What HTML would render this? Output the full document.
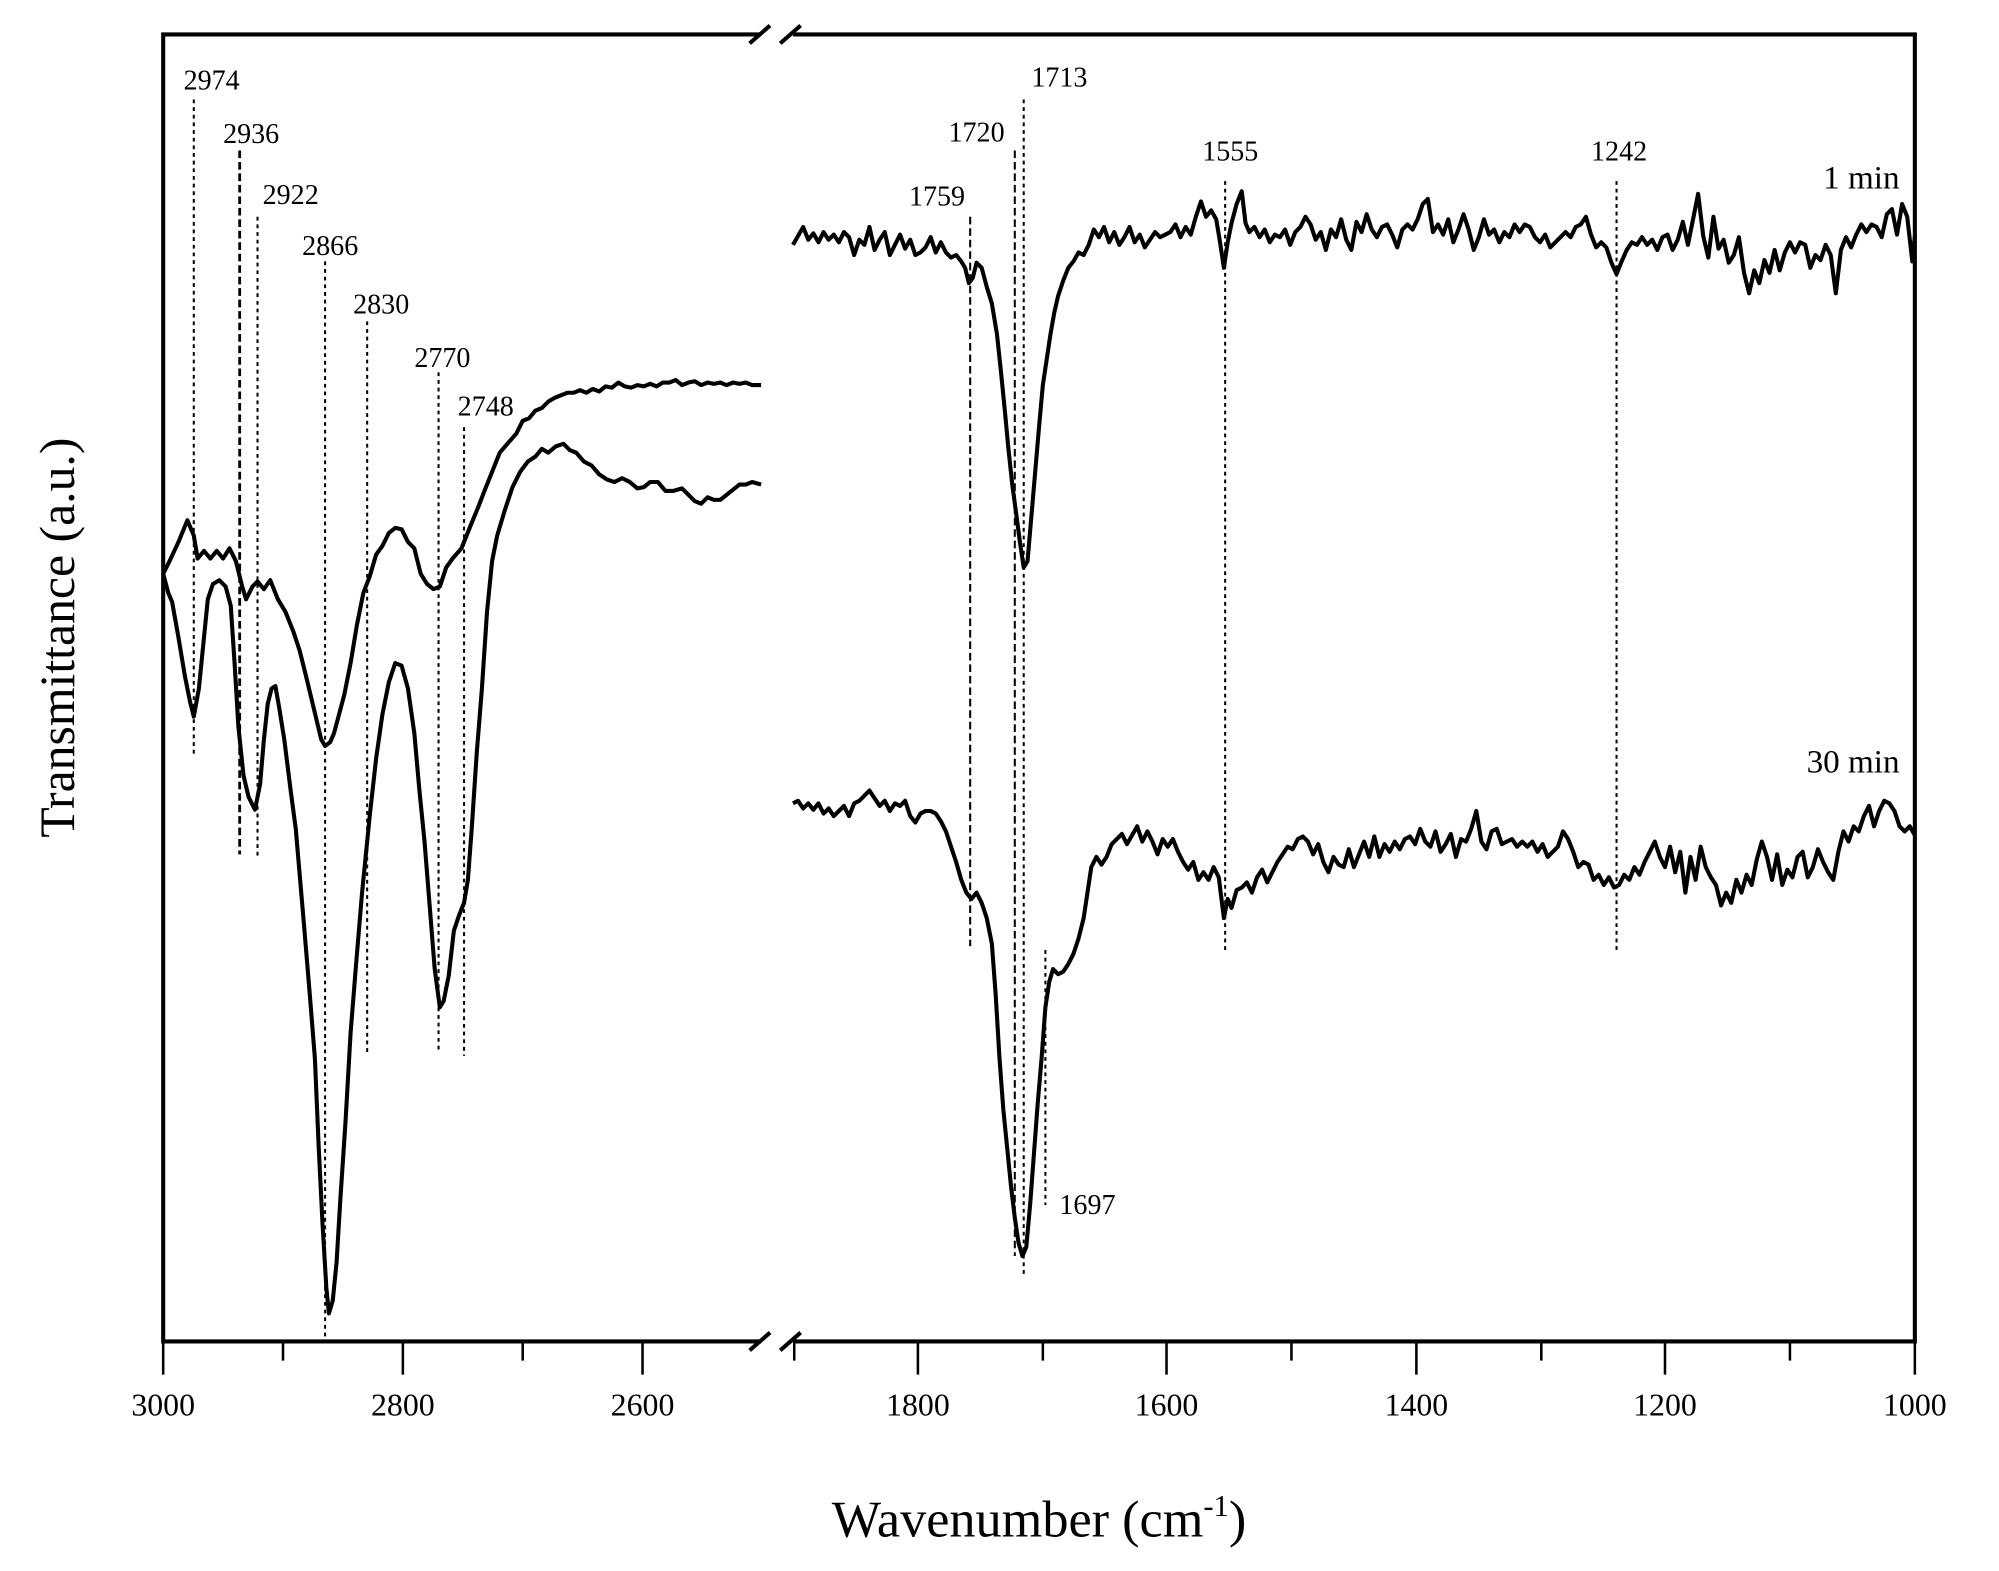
<!DOCTYPE html>
<html><head><meta charset="utf-8"><style>
html,body{margin:0;padding:0;background:#fff}
svg{display:block}
text{font-family:"Liberation Serif",serif;fill:#000}
</style></head><body>
<svg width="1999" height="1571" viewBox="0 0 1568 1232" preserveAspectRatio="none">
<rect width="1568" height="1232" fill="#fff"/>
<g stroke="#000" stroke-width="3.2" fill="none">
<polyline points="597,27 128,27 128,1052 597,1052"/>
<polyline points="622,27 1502,27 1502,1052 622,1052"/>
<line x1="588" y1="34" x2="604" y2="20"/><line x1="612" y1="34" x2="628" y2="20"/>
<line x1="588" y1="1059" x2="604" y2="1045"/><line x1="612" y1="1059" x2="628" y2="1045"/>
</g>
<g stroke="#000" stroke-width="2">
<line x1="128" y1="1052" x2="128" y2="1078"/><line x1="316" y1="1052" x2="316" y2="1078"/><line x1="504" y1="1052" x2="504" y2="1078"/>
<line x1="222" y1="1052" x2="222" y2="1067"/><line x1="410" y1="1052" x2="410" y2="1067"/><line x1="623" y1="1052" x2="623" y2="1067"/>
<line x1="720" y1="1052" x2="720" y2="1078"/><line x1="915" y1="1052" x2="915" y2="1078"/><line x1="1111" y1="1052" x2="1111" y2="1078"/><line x1="1306" y1="1052" x2="1306" y2="1078"/><line x1="1502" y1="1052" x2="1502" y2="1078"/>
<line x1="818" y1="1052" x2="818" y2="1067"/><line x1="1013" y1="1052" x2="1013" y2="1067"/><line x1="1209" y1="1052" x2="1209" y2="1067"/><line x1="1404" y1="1052" x2="1404" y2="1067"/>
</g>
<g font-size="25" text-anchor="middle">
<text x="128" y="1110">3000</text><text x="316" y="1110">2800</text><text x="504" y="1110">2600</text>
<text x="720" y="1110">1800</text><text x="915" y="1110">1600</text><text x="1111" y="1110">1400</text><text x="1306" y="1110">1200</text><text x="1502" y="1110">1000</text>
</g>
<text x="815" y="1205" font-size="41" text-anchor="middle">Wavenumber (cm<tspan font-size="24" dy="-16">-1</tspan><tspan dy="16">)</tspan></text>
<text transform="translate(58,500) rotate(-90)" font-size="39" text-anchor="middle">Transmittance (a.u.)</text>
<g stroke="#000" stroke-width="1.6" fill="none">
<line x1="152" y1="78" x2="152" y2="592" stroke-dasharray="3,3"/>
<line x1="188" y1="118" x2="188" y2="670" stroke-dasharray="6,3" stroke-width="2.2"/>
<line x1="202" y1="170" x2="202" y2="672" stroke-dasharray="3,3"/>
<line x1="255" y1="205" x2="255" y2="1050" stroke-dasharray="3,3"/>
<line x1="288" y1="252" x2="288" y2="826" stroke-dasharray="3,3"/>
<line x1="344" y1="292" x2="344" y2="826" stroke-dasharray="3,3"/>
<line x1="364" y1="335" x2="364" y2="828" stroke-dasharray="3,3"/>
<line x1="761" y1="170" x2="761" y2="742" stroke-dasharray="6,3"/>
<line x1="796" y1="118" x2="796" y2="985" stroke-dasharray="6,3"/>
<line x1="803" y1="78" x2="803" y2="1000" stroke-dasharray="3,3"/>
<line x1="961" y1="142" x2="961" y2="748" stroke-dasharray="3,3"/>
<line x1="1268" y1="142" x2="1268" y2="748" stroke-dasharray="3,3"/>
<line x1="820" y1="745" x2="820" y2="945" stroke-dasharray="3,3"/>
</g>
<g font-size="22" text-anchor="middle">
<text x="166" y="70">2974</text><text x="197" y="112">2936</text><text x="228" y="160">2922</text>
<text x="259" y="200">2866</text><text x="299" y="246">2830</text><text x="347" y="288">2770</text><text x="381" y="326">2748</text>
<text x="735" y="161">1759</text><text x="766" y="111">1720</text><text x="831" y="68">1713</text>
<text x="965" y="126">1555</text><text x="1270" y="126">1242</text><text x="853" y="952">1697</text>
</g>
<g font-size="26" text-anchor="end"><text x="1490" y="148">1 min</text><text x="1490" y="606">30 min</text></g>
<g stroke="#000" stroke-width="3.2" fill="none" stroke-linejoin="round">
<polyline points="128,450 133,440 140,425 147,408 152,420 155,438 160,432 165,438 170,432 175,438 180,430 185,440 190,460 193,470 198,460 202,456 207,462 212,455 218,470 224,480 230,495 235,510 240,530 246,555 252,580 255,585 259,582 262,575 266,560 270,545 275,520 280,490 285,465 290,452 295,435 300,428 305,418 310,414 315,415 320,425 325,430 330,450 335,458 340,462 345,460 350,445 355,438 362,430 366,420 370,410 375,398 380,385 386,370 392,355 398,348 405,340 410,330 415,328 420,322 425,320 430,315 435,312 440,310 445,308 450,308 455,306 460,308 465,305 470,307 475,303 480,304 485,300 490,303 495,304 500,302 505,303 510,301 515,303 520,300 525,300 530,298 535,302 540,300 545,299 550,302 555,300 560,301 565,300 570,302 575,300 580,301 585,300 590,302 597,302"/>
<polyline points="128,450 132,465 135,472 140,500 145,530 149,550 152,562 156,540 160,500 163,470 167,458 172,455 177,460 181,475 184,520 187,570 191,608 195,625 200,635 204,615 207,580 210,552 213,540 216,538 219,555 223,580 228,620 232,650 238,720 243,780 247,830 250,900 253,960 256,1010 258,1030 261,1020 264,990 267,940 271,880 275,810 279,760 284,700 290,640 295,595 300,560 305,535 310,520 315,522 320,540 325,575 329,620 333,660 337,710 341,760 345,790 348,785 352,765 356,730 360,718 364,708 367,690 370,650 374,590 378,540 382,480 386,440 390,420 396,400 402,382 408,370 414,362 420,358 425,352 430,355 436,350 442,348 447,353 452,355 458,362 464,365 470,372 476,376 482,378 488,375 494,378 500,383 505,382 510,378 516,378 522,385 528,385 535,383 540,388 545,393 550,395 555,390 560,392 565,392 570,388 575,384 580,380 585,380 590,378 597,380"/>
<polyline points="622,192 626,185 630,178 634,188 638,183 642,190 646,182 650,188 654,184 658,190 662,182 666,186 670,200 674,188 678,192 682,178 686,196 690,188 694,182 698,200 702,192 706,184 710,195 714,188 718,200 722,198 726,194 730,186 734,198 738,190 742,198 746,202 750,200 754,205 757,210 760,222 763,218 766,206 770,210 774,225 778,238 782,262 785,290 788,320 791,352 794,380 797,402 800,425 803,445 806,440 809,405 812,370 815,335 818,302 821,282 824,262 827,245 830,232 834,220 838,210 842,205 846,198 850,200 854,192 858,180 862,186 866,178 870,190 874,182 878,192 882,186 886,178 890,190 894,184 898,194 902,188 906,182 910,186 914,184 918,182 922,176 926,186 930,178 934,184 938,170 942,158 946,170 950,165 954,172 957,190 960,210 963,190 966,175 970,160 974,150 977,175 980,182 984,178 988,186 992,180 996,190 1000,184 1004,186 1008,180 1012,192 1016,182 1020,178 1024,170 1028,176 1032,188 1036,182 1040,196 1044,180 1048,186 1052,172 1056,188 1060,196 1064,174 1068,182 1072,168 1076,180 1080,186 1084,178 1088,176 1092,184 1096,194 1100,180 1104,176 1108,180 1112,172 1116,160 1120,156 1124,182 1128,176 1132,184 1136,172 1140,190 1144,180 1148,168 1152,180 1156,196 1160,186 1164,172 1168,184 1172,180 1176,190 1180,182 1184,186 1188,176 1192,182 1196,176 1200,178 1204,186 1208,190 1212,184 1216,194 1220,190 1224,186 1228,182 1232,186 1236,178 1240,176 1244,170 1248,184 1252,194 1256,190 1260,194 1264,206 1268,215 1272,205 1276,196 1280,190 1284,192 1288,186 1292,192 1296,188 1300,196 1304,186 1308,184 1312,196 1316,188 1320,174 1324,192 1328,172 1332,152 1336,185 1340,202 1344,170 1348,195 1352,188 1356,206 1360,200 1364,186 1368,214 1372,230 1376,212 1380,222 1384,204 1388,214 1392,196 1396,212 1400,198 1404,190 1408,198 1412,190 1416,192 1420,210 1424,200 1428,204 1432,192 1436,200 1440,230 1444,196 1448,186 1452,194 1456,184 1460,176 1464,182 1468,176 1472,178 1476,186 1480,168 1484,164 1488,184 1492,160 1496,170 1500,205 1502,185"/>
<polyline points="622,630 626,628 630,634 634,630 638,635 642,630 646,638 650,634 654,640 658,636 662,632 666,640 670,630 674,628 678,624 682,620 686,626 690,632 694,628 698,636 702,630 706,632 710,628 714,640 718,645 722,638 726,636 730,636 734,638 738,644 742,652 746,664 750,676 754,690 758,700 762,705 766,700 770,708 774,720 778,740 781,780 784,830 787,870 790,900 793,930 796,955 799,975 802,985 805,978 808,945 811,905 814,865 817,830 820,790 823,770 826,760 830,764 834,762 838,756 842,748 846,736 850,720 853,700 856,680 860,672 864,678 868,672 872,662 876,658 880,654 884,662 888,655 892,648 896,660 900,652 904,660 908,670 912,658 916,664 920,658 924,668 928,676 932,682 936,676 940,690 944,684 948,690 952,680 956,688 960,720 963,705 966,712 970,698 974,696 978,692 982,700 986,688 990,682 994,692 998,684 1002,676 1006,670 1010,664 1014,666 1018,658 1022,656 1026,660 1030,670 1034,662 1038,676 1042,684 1046,672 1050,678 1054,680 1058,666 1062,680 1066,670 1070,660 1074,672 1078,656 1082,672 1086,662 1090,668 1094,660 1098,666 1102,658 1106,656 1110,662 1114,650 1118,660 1122,664 1126,652 1130,668 1134,662 1138,654 1142,672 1146,658 1150,660 1154,650 1158,636 1162,660 1166,666 1170,652 1174,650 1178,662 1182,660 1186,658 1190,664 1194,660 1198,664 1202,660 1206,668 1210,662 1214,672 1218,668 1222,664 1226,652 1230,658 1234,668 1238,680 1242,676 1246,678 1250,690 1254,686 1258,694 1262,688 1266,696 1270,694 1274,686 1278,690 1282,680 1286,686 1290,676 1294,668 1298,660 1302,672 1306,680 1310,664 1314,684 1318,668 1322,700 1326,672 1330,690 1334,664 1338,680 1342,688 1346,694 1350,710 1354,700 1358,708 1362,690 1366,700 1370,686 1374,694 1378,674 1382,660 1386,672 1390,690 1394,670 1398,694 1402,682 1406,688 1410,672 1414,668 1418,688 1422,680 1426,666 1430,676 1434,684 1438,690 1442,668 1446,652 1450,660 1454,648 1458,652 1462,640 1466,632 1470,648 1474,636 1478,628 1482,630 1486,636 1490,648 1494,652 1498,648 1502,655"/>
</g>
</svg>
</body></html>
